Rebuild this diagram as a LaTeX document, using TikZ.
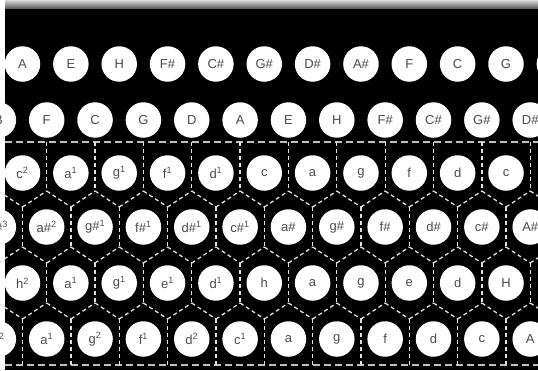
\documentclass[tikz,border=0pt]{standalone}
\usepackage{fontspec}
\setmainfont{Liberation Sans}
\begin{document}
\begin{tikzpicture}[x=1pt,y=-1pt,
  btn/.style={circle, fill=white, minimum size=35.5pt, inner sep=0pt, text=black!70,
              font=\fontsize{13}{13}\selectfont},
  hexline/.style={white!88!black, line width=1.3pt, dash pattern=on 4pt off 3pt},
  rimline/.style={black!25, line width=2.6pt, dash pattern=on 7pt off 4pt}]
\useasboundingbox (0,0) rectangle (538,370);
\fill[white] (0,0) rectangle (538,370);
\fill[black] (5,0) rectangle (538,370);
\shade[top color=black!15, bottom color=black!62] (5,0) rectangle (538,8);
\begin{scope}
\clip (0,8) rectangle (538,370);
% rim lines
\draw[rimline] (5,142) -- (538,142);
\draw[rimline] (5,365) -- (538,365);
% honeycomb
\foreach \k in {-1,...,23}{
  \pgfmathsetmacro\xa{-1.65+\k*24.175}
  \pgfmathsetmacro\xb{-1.65+(\k+1)*24.175}
  \pgfmathsetmacro\ya{isodd(\k)?207:191}
  \pgfmathsetmacro\yb{isodd(\k)?191:207}
  \draw[hexline] (\xa,\ya) -- (\xb,\yb);
  \pgfmathsetmacro\ya{isodd(\k)?247:263}
  \pgfmathsetmacro\yb{isodd(\k)?263:247}
  \draw[hexline] (\xa,\ya) -- (\xb,\yb);
  \pgfmathsetmacro\ya{isodd(\k)?319:303}
  \pgfmathsetmacro\yb{isodd(\k)?303:319}
  \draw[hexline] (\xa,\ya) -- (\xb,\yb);
}
\foreach \k in {-1,...,12}{
  \pgfmathsetmacro\xe{-1.65+\k*48.35}
  \pgfmathsetmacro\xo{22.5+\k*48.35}
  \draw[hexline] (\xe,142) -- (\xe,191);
  \draw[hexline] (\xo,207) -- (\xo,247);
  \draw[hexline] (\xe,263) -- (\xe,303);
  \draw[hexline] (\xo,319) -- (\xo,365);
}
% buttons
\foreach \lab [count=\i from 0] in {A,E,H,F\#,C\#,G\#,D\#,A\#,F,C,G,{}}
  \node[btn] (ra\i) at ({22.5+\i*48.35},64) {\lab};
\foreach \lab [count=\i from 0] in {B,F,C,G,D,A,E,H,F\#,C\#,G\#,D\#}
  \node[btn] (rb\i) at ({-1.65+\i*48.35},120) {\lab};
\foreach \lab [count=\i from 0] in {c\textsuperscript{2},a\textsuperscript{1},g\textsuperscript{1},f\textsuperscript{1},d\textsuperscript{1},c,a,g,f,d,c}
  \node[btn] (rc\i) at ({22.5+\i*48.35},173) {\lab};
\foreach \lab [count=\i from 0] in {c\#\textsuperscript{3},a\#\textsuperscript{2},g\#\textsuperscript{1},f\#\textsuperscript{1},d\#\textsuperscript{1},c\#\textsuperscript{1},a\#,g\#,f\#,d\#,c\#,A\#}
  \node[btn] (rd\i) at ({-1.65+\i*48.35},227) {\lab};
\foreach \lab [count=\i from 0] in {h\textsuperscript{2},a\textsuperscript{1},g\textsuperscript{1},e\textsuperscript{1},d\textsuperscript{1},h,a,g,e,d,H}
  \node[btn] (re\i) at ({22.5+\i*48.35},283) {\lab};
\foreach \lab [count=\i from 0] in {c\textsuperscript{2},a\textsuperscript{1},g\textsuperscript{2},f\textsuperscript{1},d\textsuperscript{2},c\textsuperscript{1},a,g,f,d,c,A}
  \node[btn] (rf\i) at ({-1.65+\i*48.35},339) {\lab};
\end{scope}
\end{tikzpicture}
\end{document}
